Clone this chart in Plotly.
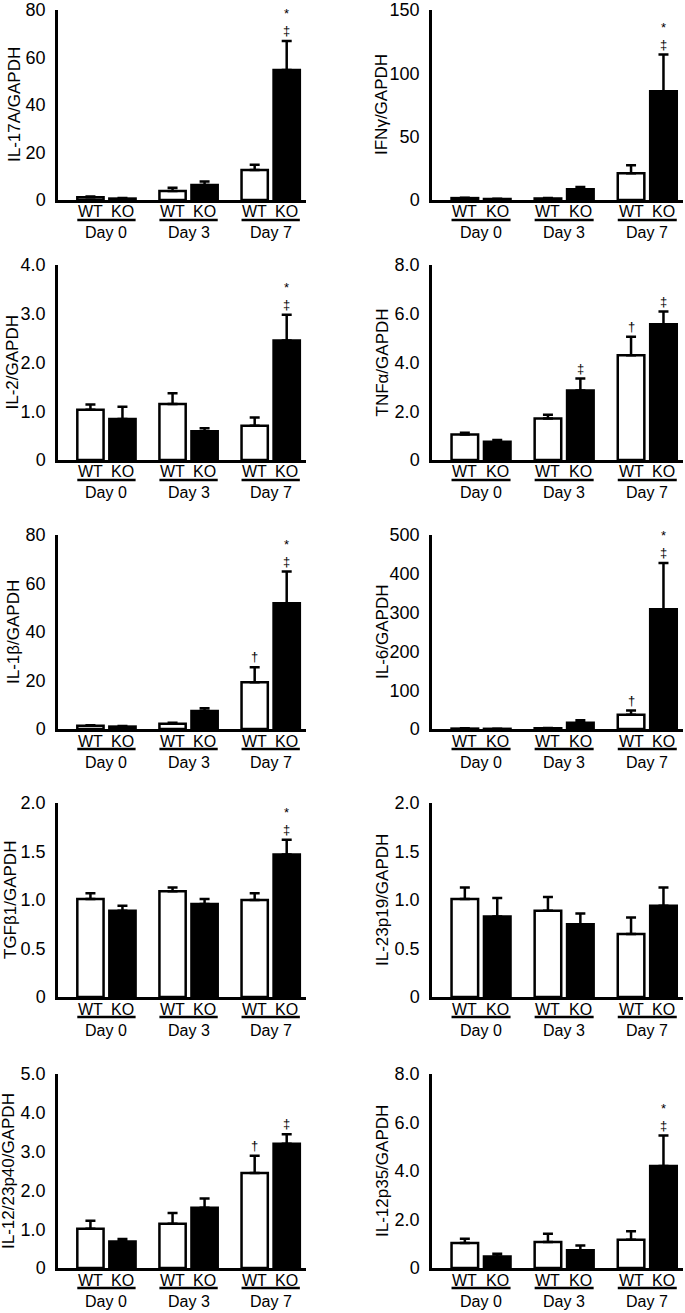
import plotly.graph_objects as go
from plotly.subplots import make_subplots

# ---------------- data ----------------
days = ["Day 0", "Day 3", "Day 7"]
genotypes = ["WT", "KO"]

il17a_wt = [1.2, 3.8, 12.6]
il17a_wt_err = [0.3, 1.4, 2.2]
il17a_ko = [0.6, 6.3, 54.7]
il17a_ko_err = [0.2, 1.5, 12.3]

ifng_wt = [1.5, 1.2, 21.2]
ifng_wt_err = [0.3, 0.3, 6.2]
ifng_ko = [0.8, 8.5, 85.8]
ifng_ko_err = [0.2, 1.8, 29.0]

il2_wt = [1.03, 1.15, 0.70]
il2_wt_err = [0.11, 0.22, 0.17]
il2_ko = [0.84, 0.59, 2.45]
il2_ko_err = [0.25, 0.06, 0.53]

tnfa_wt = [1.05, 1.70, 4.30]
tnfa_wt_err = [0.07, 0.16, 0.76]
tnfa_ko = [0.75, 2.85, 5.57]
tnfa_ko_err = [0.07, 0.49, 0.52]

il1b_wt = [1.3, 2.2, 19.3]
il1b_wt_err = [0.2, 0.4, 6.2]
il1b_ko = [1.0, 7.4, 51.9]
il1b_ko_err = [0.2, 1.2, 13.0]

il6_wt = [1.0, 2.0, 37.0]
il6_wt_err = [1.0, 0.5, 10.4]
il6_ko = [0.5, 16.4, 308.6]
il6_ko_err = [0.3, 6.0, 119.0]

tgfb1_wt = [1.01, 1.09, 1.00]
tgfb1_wt_err = [0.06, 0.04, 0.07]
tgfb1_ko = [0.89, 0.96, 1.47]
tgfb1_ko_err = [0.05, 0.05, 0.15]

il23p19_wt = [1.01, 0.89, 0.65]
il23p19_wt_err = [0.12, 0.14, 0.17]
il23p19_ko = [0.83, 0.75, 0.94]
il23p19_ko_err = [0.19, 0.11, 0.19]

il1223p40_wt = [1.01, 1.14, 2.45]
il1223p40_wt_err = [0.21, 0.28, 0.44]
il1223p40_ko = [0.68, 1.55, 3.20]
il1223p40_ko_err = [0.07, 0.24, 0.25]

il12p35_wt = [1.03, 1.07, 1.17]
il12p35_wt_err = [0.18, 0.34, 0.35]
il12p35_ko = [0.47, 0.73, 4.21]
il12p35_ko_err = [0.12, 0.20, 1.25]

# significance marks: (genotype, day index, text)
il17a_marks = [("KO", 2, "*<br>‡")]
ifng_marks = [("KO", 2, "*<br>‡")]
il2_marks = [("KO", 2, "*<br>‡")]
tnfa_marks = [("KO", 1, "‡"), ("WT", 2, "†"), ("KO", 2, "‡")]
il1b_marks = [("WT", 2, "†"), ("KO", 2, "*<br>‡")]
il6_marks = [("WT", 2, "†"), ("KO", 2, "*<br>‡")]
tgfb1_marks = [("KO", 2, "*<br>‡")]
il23p19_marks = []
il1223p40_marks = [("WT", 2, "†"), ("KO", 2, "‡")]
il12p35_marks = [("KO", 2, "*<br>‡")]

panels = [
    ("IL-17A/GAPDH", il17a_wt, il17a_wt_err, il17a_ko, il17a_ko_err, [0, 20, 40, 60, 80], ["0", "20", "40", "60", "80"], il17a_marks),
    ("IFNγ/GAPDH", ifng_wt, ifng_wt_err, ifng_ko, ifng_ko_err, [0, 50, 100, 150], ["0", "50", "100", "150"], ifng_marks),
    ("IL-2/GAPDH", il2_wt, il2_wt_err, il2_ko, il2_ko_err, [0, 1, 2, 3, 4], ["0", "1.0", "2.0", "3.0", "4.0"], il2_marks),
    ("TNFα/GAPDH", tnfa_wt, tnfa_wt_err, tnfa_ko, tnfa_ko_err, [0, 2, 4, 6, 8], ["0", "2.0", "4.0", "6.0", "8.0"], tnfa_marks),
    ("IL-1β/GAPDH", il1b_wt, il1b_wt_err, il1b_ko, il1b_ko_err, [0, 20, 40, 60, 80], ["0", "20", "40", "60", "80"], il1b_marks),
    ("IL-6/GAPDH", il6_wt, il6_wt_err, il6_ko, il6_ko_err, [0, 100, 200, 300, 400, 500], ["0", "100", "200", "300", "400", "500"], il6_marks),
    ("TGFβ1/GAPDH", tgfb1_wt, tgfb1_wt_err, tgfb1_ko, tgfb1_ko_err, [0, 0.5, 1, 1.5, 2], ["0", "0.5", "1.0", "1.5", "2.0"], tgfb1_marks),
    ("IL-23p19/GAPDH", il23p19_wt, il23p19_wt_err, il23p19_ko, il23p19_ko_err, [0, 0.5, 1, 1.5, 2], ["0", "0.5", "1.0", "1.5", "2.0"], il23p19_marks),
    ("IL-12/23p40/GAPDH", il1223p40_wt, il1223p40_wt_err, il1223p40_ko, il1223p40_ko_err, [0, 1, 2, 3, 4, 5], ["0", "1.0", "2.0", "3.0", "4.0", "5.0"], il1223p40_marks),
    ("IL-12p35/GAPDH", il12p35_wt, il12p35_wt_err, il12p35_ko, il12p35_ko_err, [0, 2, 4, 6, 8], ["0", "2.0", "4.0", "6.0", "8.0"], il12p35_marks),
]

# ---------------- layout geometry (pixels) ----------------
W, H = 685, 1313
FONT = "Liberation Sans, Arial, sans-serif"
col_px = [(58, 306), (432, 683)]
row_px = [(10, 200), (265, 460), (535, 729), (803, 997), (1074, 1268)]
title_shift = [-43, -50, -46, -50, -45, -50, -48, -50, -50, -50]
half = 0.195   # half distance between WT and KO bar centres (x units)
bw = 0.16      # half bar width (x units)

fig = make_subplots(rows=5, cols=2)
x_idx = list(range(len(days)))

annotations = []
shapes = []
for k, (title, wt, wte, ko, koe, tv, tt, marks) in enumerate(panels):
    r, c = k // 2, k % 2
    fig.add_trace(go.Bar(x=x_idx, y=wt, name="WT", offsetgroup="WT",
                         marker=dict(color="white", line=dict(color="black", width=2.5)),
                         error_y=dict(type="data", array=wte, arrayminus=[0] * len(wte), symmetric=False,
                                      color="black", thickness=2.5, width=5),
                         showlegend=False), row=r + 1, col=c + 1)
    fig.add_trace(go.Bar(x=x_idx, y=ko, name="KO", offsetgroup="KO",
                         marker=dict(color="black", line=dict(color="black", width=2.5)),
                         error_y=dict(type="data", array=koe, arrayminus=[0] * len(koe), symmetric=False,
                                      color="black", thickness=2.5, width=5),
                         showlegend=False), row=r + 1, col=c + 1)
    axn = "" if k == 0 else str(k + 1)
    x0p, x1p = col_px[c]
    y0p, y1p = row_px[r]
    fig.layout["xaxis" + axn].update(
        domain=[x0p / W, x1p / W], range=[-0.59, 2.43], showline=True, linecolor="black",
        linewidth=2.5, showticklabels=False, ticks="", showgrid=False, zeroline=False,
        automargin=False, fixedrange=True)
    fig.layout["yaxis" + axn].update(
        domain=[1 - y1p / H, 1 - y0p / H], range=[0, tv[-1]], tickvals=tv, ticktext=tt,
        showline=True, linecolor="black", linewidth=2.5, ticks="", showgrid=False, zeroline=False,
        automargin=False, ticklabeloverflow="allow", fixedrange=True,
        tickfont=dict(family=FONT, size=18, color="black"), ticklabelstandoff=6)
    xr = "x" + axn
    yr = "y" + axn
    # y title
    annotations.append(dict(text=title, xref=xr + " domain", yref=yr + " domain", x=0, y=0.5,
                            xshift=title_shift[k], textangle=-90, showarrow=False,
                            xanchor="center", yanchor="middle",
                            font=dict(family=FONT, size=17, color="black")))
    for i, d in enumerate(days):
        for g, off in zip(genotypes, (-half, half)):
            annotations.append(dict(text=g, xref=xr, yref=yr + " domain", x=i + off, y=0, yshift=-12,
                                    showarrow=False, xanchor="center", yanchor="middle",
                                    font=dict(family=FONT, size=16, color="black")))
        annotations.append(dict(text=d, xref=xr, yref=yr + " domain", x=i, y=0, yshift=-33,
                                showarrow=False, xanchor="center", yanchor="middle",
                                font=dict(family=FONT, size=16, color="black")))
        shapes.append(dict(type="line", xref=xr, yref=yr + " domain", x0=i - half - bw, x1=i + half + bw,
                           yanchor=0, ysizemode="pixel", y0=-20, y1=-20,
                           line=dict(color="black", width=2.5)))
    for g, i, sym in marks:
        val = wt[i] + wte[i] if g == "WT" else ko[i] + koe[i]
        off = -half if g == "WT" else half
        annotations.append(dict(text=sym, xref=xr, yref=yr, x=i + off, y=val, yshift=1,
                                showarrow=False, xanchor="center", yanchor="bottom",
                                font=dict(family=FONT, size=13, color="black")))

fig.update_layout(width=W, height=H, margin=dict(l=0, r=0, t=0, b=0),
                  paper_bgcolor="white", plot_bgcolor="white",
                  barmode="group", bargap=0.22, bargroupgap=0.18,
                  annotations=annotations, shapes=shapes, hovermode=False,
                  font=dict(family=FONT, color="black"))
fig.write_html("out.html", config={"displayModeBar": False},
               post_script="document.body.style.margin='0px';")
